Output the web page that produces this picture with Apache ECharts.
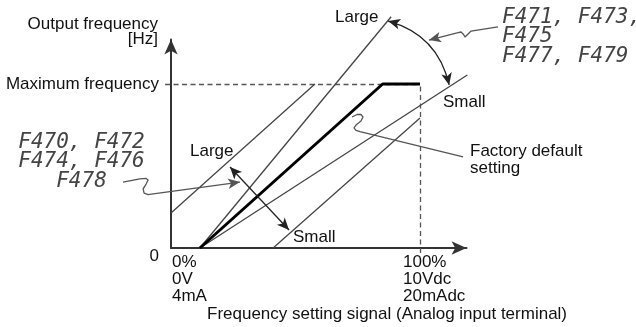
<!DOCTYPE html>
<html>
<head>
<meta charset="utf-8">
<script src="https://cdn.jsdelivr.net/npm/echarts@6/dist/echarts.min.js"></script>
<style>
html, body { margin: 0; padding: 0; background: #fff; }
#main { width: 636px; height: 327px; }
</style>
</head>
<body>
<div id="main"></div>
<script>
// x: input signal in % of full scale, y: output frequency in % of maximum frequency
const factoryDefault = [[11.6, 0], [85, 100], [100, 100]];
const gainLarge = [[11.6, 0], [88.4, 141]];
const gainSmall = [[11.6, 0], [119, 105.5]];
const biasLarge = [[0, 21.3], [57.8, 100]];
const biasSmall = [[41, 0], [100, 79.3]];
const maxFreqGuide = [[-2.4, 100], [100, 100]];
const fullScaleGuide = [[100, -3], [100, 100]];

// callout arrows and leaders, same units
const biasArrow = [[23.7, 49.4], [47.4, 11]];
const gainArc = [[87.2, 138.4], [111.7, 99.4]];
const leftLeader = [[-19.3, 40.2], [-12.5, 42.1], [-10, 42.4], [-9.2, 41.5], [-10, 39], [-11.2, 36],
  [-10.8, 33.5], [-9.2, 32.6], [-6.4, 33.2]];
const leftLeaderTip = [[-6.4, 33.2], [27.7, 40.2]];
const topLeader = [[131.3, 134.8], [120.5, 132.3], [118.9, 129.9], [118.1, 128.7], [117.3, 130.5],
  [116.5, 131.7], [114.9, 131.1]];
const topLeaderTip = [[114.9, 131.1], [103.6, 126.8]];
const factoryLeader = [[72.7, 79.9], [74.7, 81.4], [76.3, 81.4], [77.1, 79.9], [76.3, 77.4], [74.3, 75],
  [73.5, 73.2], [74.3, 71.7], [75.9, 71], [117.3, 55.5]];

const yTickLabels = { 0: '0', 100: 'Maximum frequency' };
const xTickLabels = ['0%\n0V\n4mA', '100%\n10Vdc\n20mAdc'];
const biasCodes = 'F470, F472\nF474, F476\nF478';
const gainCodes = 'F471, F473,\nF475\nF477, F479';

const font = '17px "Liberation Sans", Arial, sans-serif';
const segFont = 'italic 21px "DejaVu Sans Mono", monospace';

function curve(data, width, color, extra) {
  return Object.assign({
    type: 'line', data: data, showSymbol: false, symbol: 'none',
    clip: false, silent: true, z: 3,
    lineStyle: { color: color, width: width }
  }, extra || {});
}

function text(x, y, str, align, extra) {
  return {
    type: 'text', x: x, y: y, silent: true,
    style: Object.assign({ text: str, font: font, fill: '#111', align: align || 'left', verticalAlign: 'middle' }, extra || {})
  };
}

const axisLine = {
  show: true, onZero: false,
  symbol: ['none', 'arrow'], symbolSize: [10, 15],
  lineStyle: { color: '#333', width: 2 }
};

let option = {
  animation: false,
  grid: { left: 171, right: 169.5, top: 39.5, bottom: 79, containLabel: false, outerBoundsMode: 'none' },
  xAxis: {
    type: 'value', min: 0, max: 118.67, interval: 100,
    axisLine: axisLine,
    axisTick: { show: false },
    axisLabel: { show: false },
    splitLine: { show: false }
  },
  yAxis: {
    type: 'value', min: 0, max: 127.13, interval: 100,
    axisLine: axisLine,
    axisTick: { show: false },
    splitLine: { show: false },
    axisLabel: {
      margin: 12, color: '#111', fontSize: 17, fontFamily: 'Liberation Sans',
      formatter: function (v) {
        if (v === 0) return '{low|' + yTickLabels[0] + '}';
        return yTickLabels[v] || '';
      },
      rich: { low: { padding: [16, 0, 0, 0], fontSize: 17, fontFamily: 'Liberation Sans', color: '#111' } }
    }
  },
  series: [
    curve(gainLarge, 1.3, '#444'),
    curve(gainSmall, 1.3, '#444'),
    curve(biasLarge, 1.3, '#444'),
    curve(biasSmall, 1.3, '#444'),
    curve(factoryDefault, 3, '#000', { z: 4 }),
    {
      // dashed guides
      type: 'lines', coordinateSystem: 'cartesian2d', clip: false, silent: true, z: 2,
      lineStyle: { color: '#555', width: 1.3, type: [5, 3.5], opacity: 1 },
      data: [{ coords: maxFreqGuide }, { coords: fullScaleGuide }]
    },
    {
      // wavy leaders
      type: 'lines', coordinateSystem: 'cartesian2d', polyline: true, clip: false, silent: true, z: 5,
      lineStyle: { color: '#555', width: 1.3, opacity: 1, join: 'round' },
      data: [{ coords: leftLeader }, { coords: topLeader }, { coords: factoryLeader }]
    },
    {
      type: 'lines', coordinateSystem: 'cartesian2d', clip: false, silent: true, z: 5,
      symbol: ['arrow', 'arrow'], symbolSize: [[8, 12], [8, 12]],
      lineStyle: { color: '#222', width: 1.3, opacity: 1 },
      data: [
        { coords: biasArrow },
        { coords: gainArc, lineStyle: { curveness: 0.3 } }
      ]
    },
    {
      type: 'lines', coordinateSystem: 'cartesian2d', clip: false, silent: true, z: 5,
      symbol: ['none', 'arrow'], symbolSize: [[8, 12], [8, 12]],
      lineStyle: { color: '#555', width: 1.3, opacity: 1 },
      data: [
        { coords: leftLeaderTip },
        { coords: topLeaderTip }
      ]
    }
  ],
  graphic: [
    text(158, 24, 'Output frequency', 'right'),
    text(158, 39, '[Hz]', 'right'),
    text(172, 253.5, xTickLabels[0], 'left', { verticalAlign: 'top', lineHeight: 17 }),
    text(403, 253.5, xTickLabels[1], 'left', { verticalAlign: 'top', lineHeight: 17 }),
    text(207, 314, 'Frequency setting signal (Analog input terminal)'),
    text(335, 17, 'Large'),
    text(443, 102, 'Small'),
    text(470, 142.5, 'Factory default\nsetting', 'left', { verticalAlign: 'top', lineHeight: 17 }),
    text(190, 151, 'Large'),
    text(293, 237, 'Small'),
    text(81.5, 132.75, biasCodes, 'center', { font: segFont, verticalAlign: 'top', lineHeight: 19.5, fill: '#444' }),
    text(502, 7.75, gainCodes, 'left', { font: segFont, verticalAlign: 'top', lineHeight: 19.5, fill: '#444' })
  ]
};

let myChart = echarts.init(document.getElementById('main'));
myChart.setOption(option);
</script>
</body>
</html>
